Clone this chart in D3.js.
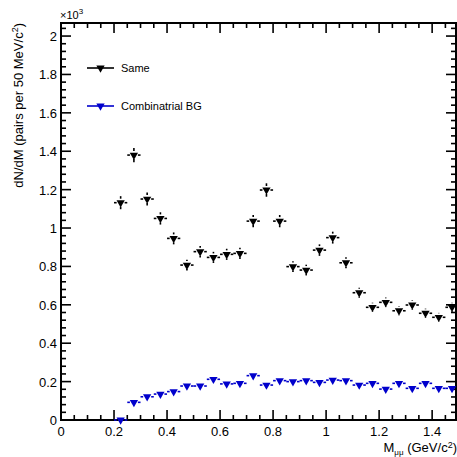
<!DOCTYPE html>
<html lang="en">
<head>
    <meta charset="UTF-8">
    <title>dN/dM</title>
    <script src="https://d3js.org/d3.v7.min.js"></script>
    <style>
        body { margin: 0; background: #fff; }
        svg { display: block; font-family: "Liberation Sans", Arial, sans-serif; }
    </style>
</head>
<body>
    <div id="chart"></div>
    <script>
        // bin centres (GeV/c^2), 50 MeV bins
        const massBins = [0.225, 0.275, 0.325, 0.375, 0.425, 0.475, 0.525, 0.575, 0.625, 0.675,
                          0.725, 0.775, 0.825, 0.875, 0.925, 0.975, 1.025, 1.075, 1.125, 1.175,
                          1.225, 1.275, 1.325, 1.375, 1.425, 1.475];
        // values in units of 10^3
        const sameVals = [1.132, 1.380, 1.151, 1.050, 0.946, 0.807, 0.877, 0.847, 0.863, 0.868,
                          1.036, 1.198, 1.036, 0.799, 0.781, 0.885, 0.950, 0.819, 0.663, 0.587,
                          0.613, 0.569, 0.599, 0.556, 0.535, 0.587];
        const sameErrs = [0.034, 0.037, 0.034, 0.032, 0.031, 0.028, 0.030, 0.029, 0.029, 0.029,
                          0.032, 0.035, 0.032, 0.028, 0.028, 0.030, 0.031, 0.029, 0.026, 0.024,
                          0.025, 0.024, 0.024, 0.024, 0.023, 0.024];
        const bgVals = [0.000, 0.092, 0.121, 0.135, 0.148, 0.177, 0.177, 0.212, 0.188, 0.191,
                        0.231, 0.182, 0.205, 0.200, 0.205, 0.196, 0.208, 0.205, 0.182, 0.191,
                        0.161, 0.191, 0.165, 0.191, 0.165, 0.165];
        const halfBin = 0.025;
        const legendNames = ["Same", "Combinatrial BG"];
        const xTickLabels = [0, 0.2, 0.4, 0.6, 0.8, 1, 1.2, 1.4];
        const yTickLabels = [0, 0.2, 0.4, 0.6, 0.8, 1, 1.2, 1.4, 1.6, 1.8, 2];

        const W = 457, H = 457;
        const frame = { left: 61, right: 456, top: 23, bottom: 420 };

        const x = d3.scaleLinear().domain([0, 1.49]).range([frame.left, frame.right]);
        const y = d3.scaleLinear().domain([0, 2.068]).range([frame.bottom, frame.top]);

        const svg = d3.select('#chart').append('svg')
            .attr('width', W).attr('height', H);

        // ticks on all four sides, pointing inward
        const xMinor = d3.range(0, 1.49, 0.05);
        const yMinor = d3.range(0, 2.068, 0.04);
        const isMajor = (v, step) => Math.abs(v / step - Math.round(v / step)) < 1e-6;

        const ticks = svg.append('g').attr('stroke', '#000').attr('stroke-width', 1.6);
        xMinor.forEach(v => {
            const len = isMajor(v, 0.2) ? 10 : 5;
            ticks.append('line').attr('x1', x(v)).attr('x2', x(v))
                .attr('y1', frame.bottom).attr('y2', frame.bottom - len);
            ticks.append('line').attr('x1', x(v)).attr('x2', x(v))
                .attr('y1', frame.top).attr('y2', frame.top + len);
        });
        yMinor.forEach(v => {
            const len = isMajor(v, 0.2) ? 10 : 5;
            ticks.append('line').attr('y1', y(v)).attr('y2', y(v))
                .attr('x1', frame.left).attr('x2', frame.left + len);
            ticks.append('line').attr('y1', y(v)).attr('y2', y(v))
                .attr('x1', frame.right).attr('x2', frame.right - len);
        });

        svg.append('rect')
            .attr('x', frame.left).attr('y', frame.top)
            .attr('width', frame.right - frame.left).attr('height', frame.bottom - frame.top)
            .attr('fill', 'none').attr('stroke', '#000').attr('stroke-width', 2);

        // tick labels
        svg.append('g').selectAll('text').data(xTickLabels).join('text')
            .attr('x', d => x(d)).attr('y', frame.bottom + 16)
            .attr('text-anchor', 'middle').attr('font-size', 13)
            .text(d => d);
        svg.append('g').selectAll('text').data(yTickLabels).join('text')
            .attr('x', frame.left - 4).attr('y', d => y(d) + 5)
            .attr('text-anchor', 'end').attr('font-size', 13)
            .text(d => d);

        // exponent
        const expo = svg.append('text').attr('x', frame.left - 1).attr('y', 19).attr('font-size', 11);
        expo.append('tspan').text('\u00d710');
        expo.append('tspan').attr('font-size', 8).attr('dy', -5).text('3');

        // axis titles
        const xt = svg.append('text').attr('x', 457).attr('y', 452)
            .attr('text-anchor', 'end').attr('font-size', 13);
        xt.append('tspan').text('M');
        xt.append('tspan').attr('font-size', 8).attr('dy', 3).text('\u03bc\u03bc');
        xt.append('tspan').attr('dy', -3).text(' (GeV/c');
        xt.append('tspan').attr('font-size', 9).attr('dy', -4).text('2');
        xt.append('tspan').attr('dy', 4).text(')');

        const yt = svg.append('text')
            .attr('transform', `translate(23, ${frame.top}) rotate(-90)`)
            .attr('text-anchor', 'end').attr('font-size', 13);
        yt.append('tspan').text('dN/dM (pairs per 50 MeV/c');
        yt.append('tspan').attr('font-size', 9).attr('dy', -5).text('2');
        yt.append('tspan').attr('dy', 5).text(')');

        // marker: downward triangle
        const tri = d3.symbol().type(d3.symbolTriangle).size(30);

        function drawSeries(vals, errs, color) {
            const g = svg.append('g');
            const gap = 4;
            vals.forEach((v, i) => {
                const cx = x(massBins[i]), cy = y(v);
                const xl = x(massBins[i] - halfBin), xr = x(massBins[i] + halfBin);
                g.append('line').attr('x1', xl).attr('x2', cx - gap).attr('y1', cy).attr('y2', cy)
                    .attr('stroke', color).attr('stroke-width', 1.6);
                g.append('line').attr('x1', cx + gap).attr('x2', Math.min(xr, frame.right)).attr('y1', cy).attr('y2', cy)
                    .attr('stroke', color).attr('stroke-width', 1.6);
                const e = errs ? errs[i] : 0;
                if (e > 0) {
                    const yt0 = y(v + e), yb0 = y(v - e);
                    if (cy - yt0 > gap) g.append('line').attr('x1', cx).attr('x2', cx)
                        .attr('y1', yt0).attr('y2', cy - gap).attr('stroke', color).attr('stroke-width', 1.6);
                    if (yb0 - cy > gap) g.append('line').attr('x1', cx).attr('x2', cx)
                        .attr('y1', cy + gap).attr('y2', yb0).attr('stroke', color).attr('stroke-width', 1.6);
                }
                g.append('path').attr('d', tri)
                    .attr('transform', `translate(${cx},${cy}) rotate(180)`)
                    .attr('fill', color);
            });
        }
        drawSeries(bgVals, null, '#0000cc');
        drawSeries(sameVals, sameErrs, '#000');

        // legend
        const legend = svg.append('g');
        [[legendNames[0], '#000', 68], [legendNames[1], '#0000cc', 106]].forEach(([name, color, ly]) => {
            legend.append('line').attr('x1', 87).attr('x2', 114).attr('y1', ly).attr('y2', ly)
                .attr('stroke', color).attr('stroke-width', 1.6);
            legend.append('path').attr('d', tri)
                .attr('transform', `translate(100.5,${ly}) rotate(180)`).attr('fill', color);
            legend.append('text').attr('x', 121).attr('y', ly + 4).attr('font-size', 11).text(name);
        });
    </script>
</body>
</html>
